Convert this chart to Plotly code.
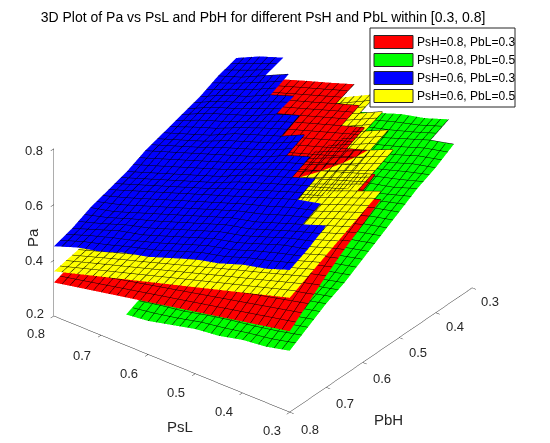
import plotly.graph_objects as go

# Сетка значений PsL (ось x) и PbH (ось y)
psl = [0.3, 0.35, 0.4, 0.45, 0.5, 0.55, 0.6, 0.65, 0.7, 0.75, 0.8]
pbh = [0.3, 0.35, 0.4, 0.45, 0.5, 0.55, 0.6, 0.65, 0.7, 0.75, 0.8]
N = None

# Pa для PsH=0.8, PbL=0.3 (строки - PbH, столбцы - PsL)
pa_red = [
    [N, N, N, N, N, 0.758, 0.729, 0.701, 0.672, 0.644, 0.615],
    [N, N, N, N, 0.761, 0.733, 0.704, 0.676, 0.647, 0.619, 0.590],
    [N, N, N, 0.761, 0.733, 0.705, 0.677, 0.649, 0.621, 0.593, 0.565],
    [N, N, 0.758, 0.730, 0.701, 0.673, 0.644, 0.616, 0.587, 0.559, 0.530],
    [N, 0.751, 0.722, 0.693, 0.664, 0.635, 0.606, 0.577, 0.548, 0.519, 0.490],
    [0.740, 0.711, 0.682, 0.653, 0.624, 0.595, 0.566, 0.537, 0.508, 0.479, 0.450],
    [0.695, 0.668, 0.640, 0.613, 0.585, 0.558, 0.530, 0.503, 0.475, 0.448, 0.420],
    [0.650, 0.625, 0.599, 0.574, 0.548, 0.523, 0.497, 0.472, 0.446, 0.421, 0.395],
    [0.600, 0.577, 0.554, 0.531, 0.508, 0.485, 0.462, 0.439, 0.416, 0.393, 0.370],
    [0.545, 0.525, 0.505, 0.485, 0.465, 0.445, 0.425, 0.405, 0.385, 0.365, 0.345],
    [0.490, 0.473, 0.456, 0.439, 0.422, 0.405, 0.388, 0.371, 0.354, 0.337, 0.320],
]

# Pa для PsH=0.8, PbL=0.5
pa_green = [
    [N, 0.77, 0.74, 0.72, 0.69, 0.66, 0.63, 0.60, 0.58, 0.55, 0.52],
    [0.76, 0.74, 0.71, 0.68, 0.66, 0.63, 0.60, 0.57, 0.55, 0.52, 0.49],
    [0.72, 0.70, 0.67, 0.65, 0.62, 0.60, 0.57, 0.55, 0.52, 0.49, 0.47],
    [0.69, 0.66, 0.64, 0.61, 0.59, 0.56, 0.54, 0.52, 0.49, 0.47, 0.44],
    [0.65, 0.63, 0.60, 0.58, 0.56, 0.53, 0.51, 0.49, 0.46, 0.44, 0.42],
    [0.61, 0.59, 0.57, 0.54, 0.52, 0.50, 0.48, 0.46, 0.43, 0.41, 0.39],
    [0.57, 0.55, 0.53, 0.51, 0.49, 0.47, 0.45, 0.43, 0.41, 0.38, 0.36],
    [0.53, 0.51, 0.50, 0.48, 0.46, 0.44, 0.42, 0.40, 0.38, 0.36, 0.34],
    [0.50, 0.48, 0.46, 0.44, 0.42, 0.40, 0.39, 0.37, 0.35, 0.33, N],
    [0.46, 0.44, 0.42, 0.41, 0.39, 0.37, 0.36, 0.34, 0.32, N, N],
    [0.42, 0.40, 0.39, 0.37, 0.36, 0.34, 0.32, 0.31, N, N, N],
]

# Pa для PsH=0.6, PbL=0.3
pa_blue = [
    [N, N, N, N, N, N, N, N, 0.75, 0.72, 0.68],
    [N, N, N, N, N, N, N, 0.77, 0.73, 0.69, 0.66],
    [N, N, N, N, N, N, 0.77, 0.74, 0.70, 0.67, 0.63],
    [N, N, N, N, N, 0.78, 0.75, 0.71, 0.68, 0.65, 0.61],
    [N, N, N, N, 0.79, 0.75, 0.72, 0.69, 0.65, 0.62, 0.59],
    [N, N, N, 0.79, 0.76, 0.72, 0.69, 0.66, 0.63, 0.60, 0.57],
    [N, N, 0.79, 0.76, 0.73, 0.70, 0.66, 0.63, 0.60, 0.57, 0.54],
    [N, 0.78, 0.76, 0.73, 0.70, 0.67, 0.64, 0.61, 0.58, 0.55, 0.52],
    [0.78, 0.75, 0.72, 0.69, 0.67, 0.64, 0.61, 0.58, 0.55, 0.52, 0.50],
    [0.74, 0.72, 0.69, 0.66, 0.64, 0.61, 0.58, 0.55, 0.53, 0.50, 0.47],
    [0.71, 0.68, 0.66, 0.63, 0.61, 0.58, 0.55, 0.53, 0.50, 0.48, 0.45],
]

# Pa для PsH=0.6, PbL=0.5
pa_yellow = [
    [N, N, N, N, 0.758, 0.715, 0.672, 0.629, 0.586, 0.543, 0.500],
    [N, N, N, 0.774, 0.733, 0.692, 0.651, 0.610, 0.568, 0.527, 0.486],
    [N, N, 0.787, 0.748, 0.708, 0.669, 0.630, 0.590, 0.551, 0.511, 0.472],
    [N, 0.796, 0.759, 0.721, 0.684, 0.646, 0.608, 0.571, 0.533, 0.496, 0.458],
    [N, 0.766, 0.730, 0.695, 0.659, 0.623, 0.587, 0.551, 0.516, 0.480, 0.444],
    [0.770, 0.736, 0.702, 0.668, 0.634, 0.600, 0.566, 0.532, 0.498, 0.464, 0.430],
    [0.738, 0.706, 0.674, 0.641, 0.609, 0.577, 0.545, 0.513, 0.480, 0.448, 0.416],
    [0.706, 0.676, 0.645, 0.615, 0.584, 0.554, 0.524, 0.493, 0.463, 0.432, 0.402],
    [0.674, 0.645, 0.617, 0.588, 0.560, 0.531, 0.502, 0.474, 0.445, 0.417, 0.388],
    [0.642, 0.615, 0.588, 0.562, 0.535, 0.508, 0.481, 0.454, 0.428, 0.401, 0.374],
    [0.610, 0.585, 0.560, 0.535, 0.510, 0.485, 0.460, 0.435, 0.410, 0.385, 0.360],
]

labels = ["PsH=0.8, PbL=0.3", "PsH=0.8, PbL=0.5", "PsH=0.6, PbL=0.3", "PsH=0.6, PbL=0.5"]
colors = ["#ff0000", "#00ff00", "#0000ff", "#ffff00"]
surfaces = [pa_red, pa_green, pa_blue, pa_yellow]

# Подписи делений (позиции взяты с картинки, в пикселях)
z_ticks = [("0.8", 34, 150), ("0.6", 34, 205), ("0.4", 34, 260), ("0.2", 35, 313)]
psl_ticks = [("0.8", 36, 333), ("0.7", 82, 355), ("0.6", 129, 373),
             ("0.5", 176, 392), ("0.4", 224, 411), ("0.3", 272, 430)]
pbh_ticks = [("0.8", 310, 429), ("0.7", 345, 403), ("0.6", 382, 378),
             ("0.5", 418, 352), ("0.4", 455, 326), ("0.3", 490, 301)]

font = "Liberation Sans, Arial, sans-serif"
W, H = 550, 443
OFF = 8  # у страницы есть отступ body ~8px


def px(x):
    return (x - OFF) / W


def py(y):
    return 1 - (y - OFF) / H


fig = go.Figure()

# Поверхности одного цвета с чёрной сеткой (как surf в MATLAB)
mesh = dict(show=True, start=0.3, end=0.8, size=0.5 / 30, color="black", width=1, highlight=False)
for z, c, name in zip(surfaces, colors, labels):
    fig.add_trace(go.Surface(
        x=psl, y=pbh, z=z, name=name,
        colorscale=[[0, c], [1, c]], showscale=False,
        lighting=dict(ambient=1, diffuse=0, specular=0, roughness=1, fresnel=0),
        contours=dict(x=mesh, y=mesh, z=dict(show=False, highlight=False)),
        hoverinfo="skip",
    ))

axis_style = dict(
    showgrid=False, showbackground=False, zeroline=False, showspikes=False,
    showline=True, linecolor="#262626", linewidth=1,
    ticks="outside", ticklen=5, tickcolor="#262626",
    showticklabels=False, title=dict(text=""),
)

fig.update_layout(
    width=W, height=H,
    margin=dict(l=0, r=0, t=0, b=0),
    paper_bgcolor="white",
    font=dict(family=font, color="#262626"),
    title=dict(text="3D Plot of Pa vs PsL and PbH for different PsH and PbL within [0.3, 0.8]",
               x=px(263), y=py(17), xanchor="center", yanchor="middle",
               font=dict(family=font, size=14, color="black")),
    scene=dict(
        domain=dict(x=[0, 0.927], y=[0.038, 1]),
        xaxis=dict(axis_style, range=[0.3, 0.8], tickvals=[0.3, 0.4, 0.5, 0.6, 0.7, 0.8]),
        yaxis=dict(axis_style, range=[0.3, 0.8], tickvals=[0.3, 0.4, 0.5, 0.6, 0.7, 0.8]),
        zaxis=dict(axis_style, range=[0.2, 0.8], tickvals=[0.2, 0.4, 0.6, 0.8]),
        aspectmode="manual",
        aspectratio=dict(x=1.4, y=1.4, z=0.924),
        camera=dict(eye=dict(x=-1.096, y=1.417, z=1.096),
                    center=dict(x=0, y=0, z=-0.015),
                    projection=dict(type="orthographic")),
    ),
    showlegend=False,
)

# Подписи осей
annotations = [
    dict(x=px(32), y=py(238), text="Pa", textangle=-90),
    dict(x=px(180), y=py(426), text="PsL"),
    dict(x=px(388), y=py(419), text="PbH"),
]
for a in annotations:
    a.update(font=dict(family=font, size=15, color="#262626"))
for t, x, y in z_ticks + psl_ticks + pbh_ticks:
    annotations.append(dict(x=px(x), y=py(y), text=t,
                            font=dict(family=font, size=13, color="#262626")))
for a in annotations:
    a.update(xref="paper", yref="paper", showarrow=False, xanchor="center", yanchor="middle")

# Легенда в стиле MATLAB: рамка, цветные прямоугольники и подписи
shapes = [dict(type="rect", xref="paper", yref="paper",
               x0=px(370), x1=px(515), y0=py(107), y1=py(28),
               fillcolor="white", line=dict(color="#262626", width=1))]
for k, (c, name) in enumerate(zip(colors, labels)):
    yc = 42 + 18 * k
    shapes.append(dict(type="rect", xref="paper", yref="paper",
                       x0=px(374), x1=px(413), y0=py(yc + 6.5), y1=py(yc - 6.5),
                       fillcolor=c, line=dict(color="#262626", width=1)))
    annotations.append(dict(x=px(415), y=py(yc), xref="paper", yref="paper",
                            text=name, showarrow=False, xanchor="left", yanchor="middle",
                            font=dict(family=font, size=12, color="black")))
fig.update_layout(shapes=shapes, annotations=annotations)

fig.write_html("out.html")
